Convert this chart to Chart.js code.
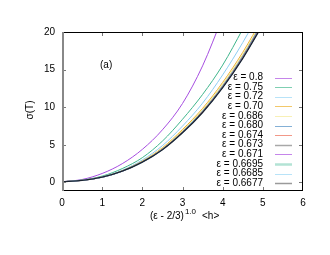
<!DOCTYPE html>
<html>
<head>
<meta charset="utf-8">
<script src="https://cdn.jsdelivr.net/npm/chart.js@4"></script>
<style>
  html, body { margin: 0; padding: 0; background: #fff; }
  #wrap { width: 330px; height: 255px; }
</style>
</head>
<body>
<div id="wrap"><canvas id="sigmaChart" width="330" height="255"></canvas></div>
<script>
// sigma(T) vs scaled field, one curve per epsilon
const xValues = [0, 0.5, 1, 1.5, 2, 2.5, 3, 3.5, 4, 4.5, 5];
const seriesLabels = ["ε = 0.8", "ε = 0.75", "ε = 0.72", "ε = 0.70", "ε = 0.686", "ε = 0.680",
  "ε = 0.674", "ε = 0.673", "ε = 0.671", "ε = 0.6695", "ε = 0.6685", "ε = 0.6677"];
const sigma08    = [0.1, 0.4, 1.2, 2.5, 4.4, 7.0, 10.5, 15.5, 22.0];
const sigma075   = [0.1, 0.32, 0.85, 1.85, 3.3, 5.5, 8.4, 11.7, 15.6, 20.4, 25.5];
const sigma072   = [0.1, 0.3, 0.76, 1.63, 3.0, 4.9, 7.5, 10.55, 14.3, 18.6, 23.4];
const sigma070   = [0.1, 0.29, 0.73, 1.56, 2.85, 4.62, 7.05, 9.85, 13.3, 17.3, 21.9];
const sigma0686  = [0.1, 0.29, 0.72, 1.54, 2.8, 4.52, 6.88, 9.65, 13.05, 17.0, 21.6];
const sigma0680  = [0.1, 0.28, 0.71, 1.52, 2.76, 4.45, 6.75, 9.5, 12.85, 16.8, 21.4];
const sigma0674  = [0.1, 0.28, 0.7, 1.51, 2.73, 4.4, 6.68, 9.4, 12.72, 16.65, 21.2];
const sigma0673  = [0.1, 0.28, 0.7, 1.51, 2.72, 4.39, 6.66, 9.37, 12.7, 16.6, 21.15];
const sigma0671  = [0.1, 0.28, 0.7, 1.5, 2.71, 4.37, 6.63, 9.34, 12.66, 16.56, 21.1];
const sigma06695 = [0.1, 0.28, 0.7, 1.5, 2.7, 4.36, 6.61, 9.32, 12.63, 16.53, 21.05];
const sigma06685 = [0.1, 0.28, 0.7, 1.5, 2.7, 4.35, 6.6, 9.31, 12.61, 16.51, 21.02];
const sigma06677 = [0.1, 0.28, 0.7, 1.5, 2.7, 4.35, 6.6, 9.3, 12.6, 16.5, 21.0];
const xTickValues = [0, 1, 2, 3, 4, 5, 6];
const yTickValues = [0, 5, 10, 15, 20];

const seriesValues = [sigma08, sigma075, sigma072, sigma070, sigma0686, sigma0680,
  sigma0674, sigma0673, sigma0671, sigma06695, sigma06685, sigma06677];
const lineColors = ["#a64ee0", "#3fb58c", "#8ccdf2", "#eab037", "#f3e77a", "#4f8fc2",
  "#ec6d5e", "#7a7a7a", "#a64ee0", "#8fd6c2", "#9fd5f2", "#1b2330"];
const legendColors = ["#c585ea", "#7fcfb2", "#b8e3f8", "#f2c86a", "#f8f0b6", "#84b0d6",
  "#f29888", "#a8a8a8", "#c585ea", "#b3e3d5", "#b8e3f8", "#9a9a9a"];
const legendWidths = [1, 1, 1, 1, 1, 1, 1, 1.5, 1, 2.5, 1, 1.5];

const FONT = "'Liberation Sans', Arial, sans-serif";

const datasets = seriesLabels.map((label, i) => ({
  label: label,
  data: seriesValues[i].map((y, k) => ({ x: xValues[k], y: y })),
  borderColor: lineColors[i],
  backgroundColor: lineColors[i],
  borderWidth: i === seriesLabels.length - 1 ? 1.3 : 1,
  pointRadius: 0,
  cubicInterpolationMode: "monotone",
  fill: false,
  order: seriesLabels.length - 1 - i
}));

// frame, inward ticks, legend and titles in gnuplot style
const gnuplotDecor = {
  id: "gnuplotDecor",
  afterDraw(chart) {
    const { ctx, chartArea: a, scales } = chart;
    ctx.save();

    // ticks on all four sides
    ctx.strokeStyle = "#777";
    ctx.lineWidth = 1;
    const tl = 4;
    xTickValues.forEach(v => {
      if (v === 0 || v === 6) return;
      const px = Math.round(scales.x.getPixelForValue(v)) + 0.5;
      ctx.beginPath();
      ctx.moveTo(px, a.bottom); ctx.lineTo(px, a.bottom - tl);
      ctx.moveTo(px, a.top); ctx.lineTo(px, a.top + tl);
      ctx.stroke();
    });
    yTickValues.forEach(v => {
      if (v === 20) return;
      const py = Math.round(scales.y.getPixelForValue(v)) + 0.5;
      ctx.beginPath();
      ctx.moveTo(a.left, py); ctx.lineTo(a.left + tl, py);
      ctx.moveTo(a.right, py); ctx.lineTo(a.right - tl, py);
      ctx.stroke();
    });

    // border
    ctx.strokeStyle = "#000";
    ctx.lineWidth = 1;
    ctx.beginPath();
    ctx.moveTo(a.left, a.top + 0.5); ctx.lineTo(a.right, a.top + 0.5);
    ctx.moveTo(a.right - 0.5, a.top); ctx.lineTo(a.right - 0.5, a.bottom);
    ctx.moveTo(a.left, a.bottom - 0.5); ctx.lineTo(a.right, a.bottom - 0.5);
    ctx.stroke();
    ctx.strokeStyle = "#888";
    ctx.lineWidth = 2;
    ctx.beginPath();
    ctx.moveTo(a.left + 1, a.top); ctx.lineTo(a.left + 1, a.bottom);
    ctx.stroke();

    // legend, right aligned text with sample line
    ctx.font = "10px " + FONT;
    ctx.textAlign = "right";
    ctx.textBaseline = "middle";
    const legTop = 77.5, legStep = 9.6;
    seriesLabels.forEach((label, i) => {
      const y = legTop + i * legStep;
      ctx.fillStyle = "#000";
      ctx.fillText(label, 263, y);
      ctx.strokeStyle = legendColors[i];
      ctx.lineWidth = legendWidths[i];
      ctx.beginPath();
      ctx.moveTo(275, Math.round(y) + 0.5);
      ctx.lineTo(292, Math.round(y) + 0.5);
      ctx.stroke();
    });

    // panel tag
    ctx.textAlign = "left";
    ctx.fillText("(a)", 100, 65);

    // x axis title with superscript
    ctx.textBaseline = "alphabetic";
    const base = 219;
    let x = 150;
    ctx.font = "10px " + FONT;
    ctx.fillText("(ε - 2/3)", x, base);
    x += ctx.measureText("(ε - 2/3)").width + 1;
    ctx.font = "8px " + FONT;
    ctx.fillText("1.0", x, base - 5);
    x += ctx.measureText("1.0").width + 6;
    ctx.font = "10px " + FONT;
    ctx.fillText("<h>", x, base);

    // y axis title
    ctx.translate(30, 110);
    ctx.rotate(-Math.PI / 2);
    ctx.textAlign = "center";
    ctx.textBaseline = "middle";
    ctx.fillText("σ(T)", 0, 0);

    ctx.restore();
  }
};

new Chart(document.getElementById("sigmaChart").getContext("2d"), {
  type: "line",
  data: { datasets: datasets },
  options: {
    responsive: false,
    animation: false,
    devicePixelRatio: 1,
    layout: { padding: { left: 0, top: 32, right: 27, bottom: 0 } },
    plugins: {
      legend: { display: false },
      tooltip: { enabled: false }
    },
    scales: {
      x: {
        type: "linear",
        min: 0,
        max: 6,
        afterBuildTicks: scale => { scale.ticks = xTickValues.map(v => ({ value: v })); },
        afterFit: scale => { scale.height = 64; },
        grid: { display: false, drawTicks: false },
        border: { display: false },
        ticks: { color: "#000", padding: 6, maxRotation: 0, font: { size: 10, family: FONT } }
      },
      y: {
        type: "linear",
        min: -1.13,
        max: 20,
        afterBuildTicks: scale => { scale.ticks = yTickValues.map(v => ({ value: v })); },
        afterFit: scale => { scale.width = 62; },
        grid: { display: false, drawTicks: false },
        border: { display: false },
        ticks: { color: "#000", padding: 7, font: { size: 10, family: FONT } }
      }
    }
  },
  plugins: [gnuplotDecor]
});
</script>
</body>
</html>
